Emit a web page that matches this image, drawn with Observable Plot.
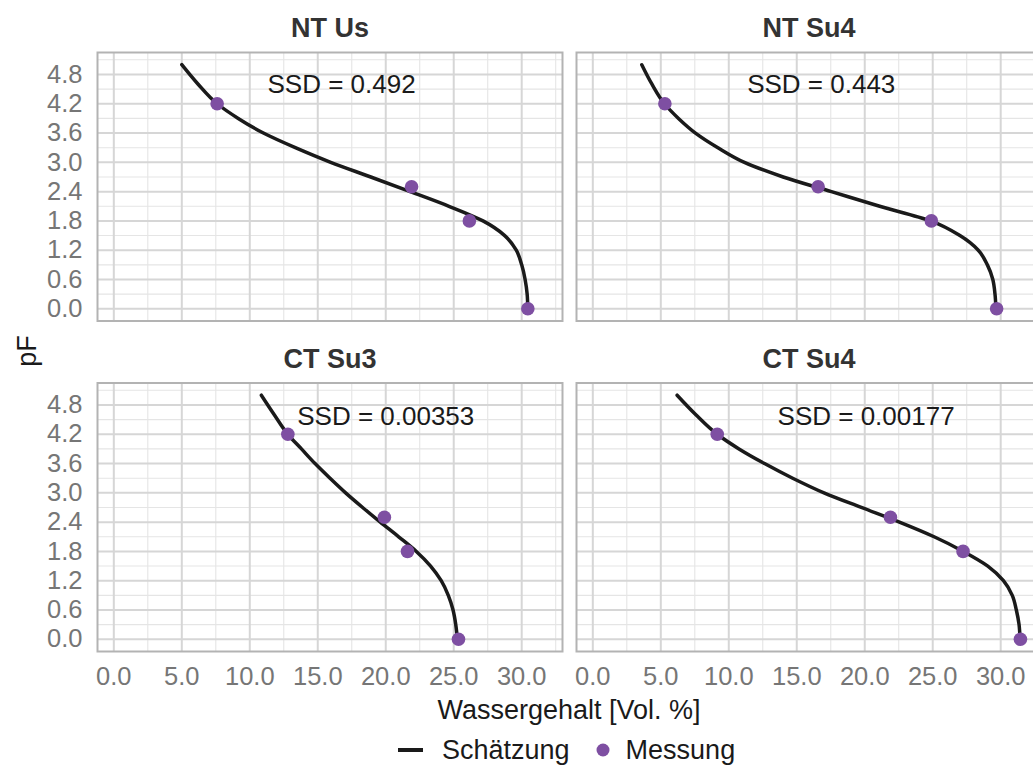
<!DOCTYPE html>
<html>
<head>
<meta charset="utf-8">
<script src="https://cdn.jsdelivr.net/npm/d3@7"></script>
<script src="https://cdn.jsdelivr.net/npm/@observablehq/plot@0.6"></script>
<style>
  html, body { margin: 0; padding: 0; background: #fff; overflow: hidden; }
  #chart { width: 1041px; }
  .legend {
    display: flex; align-items: center; height: 30px; padding: 7px 0 0 398px;
    font: 27px "Liberation Sans", Arial, sans-serif; color: #1a1a1a;
  }
  .legend svg { display: block; }
</style>
</head>
<body>
<div id="chart"></div>
<div class="legend">
  <svg width="25" height="10"><line x1="0" x2="25" y1="5" y2="5" stroke="#1a1a1a" stroke-width="4"></line></svg>
  <span style="margin-left:19px">Schätzung</span>
  <svg width="14" height="14" style="margin-left:26px"><circle cx="7" cy="7" r="6.5" fill="#7E4FA2"></circle></svg>
  <span style="margin-left:16px">Messung</span>
</div>
<script>
// Soil water retention: estimated curve (Schätzung) and measured points (Messung)
const panels = ["NT Us", "NT Su4", "CT Su3", "CT Su4"];

// Estimated retention curves, water content [Vol. %] at these pF levels
const curvePF    = [0, 0.3, 0.6, 0.9, 1.2, 1.5, 1.8, 2.1, 2.4, 2.7, 3.0, 3.3, 3.6, 3.9, 4.2, 4.6, 5.0];
const curveNTUs  = [30.45, 30.4, 30.25, 30.0, 29.6, 28.75, 27.15, 24.65, 21.8, 18.9, 15.95, 13.35, 11.0, 9.15, 7.6, 6.2, 5.0];
const curveNTSu4 = [29.65, 29.58, 29.42, 29.02, 28.35, 27.0, 24.85, 21.1, 17.55, 14.0, 11.15, 9.2, 7.55, 6.3, 5.27, 4.35, 3.6];
const curveCTSu3 = [25.27, 25.15, 24.95, 24.6, 24.08, 23.3, 22.25, 20.95, 19.6, 18.3, 17.05, 15.9, 14.8, 13.8, 12.8, 11.8, 10.85];
const curveCTSu4 = [31.42, 31.35, 31.15, 30.85, 30.2, 29.05, 27.25, 25.1, 22.55, 19.75, 17.0, 14.7, 12.63, 10.75, 9.15, 7.58, 6.2];

// Measurements
const measPF    = [4.2, 2.5, 1.8, 0.0];
const measNTUs  = [7.6, 21.9, 26.15, 30.45];
const measNTSu4 = [5.3, 16.57, 24.9, 29.7];
const measCTSu3 = [12.8, 19.9, 21.6, 25.35];
const measCTSu4 = [9.15, 21.89, 27.23, 31.45];

// Fit quality labels and their anchor in data units
const ssdText = ["SSD = 0.492", "SSD = 0.443", "SSD = 0.00353", "SSD = 0.00177"];
const ssdX    = [16.75, 16.8, 20.0, 20.1];
const ssdPF   = [4.6, 4.6, 4.57, 4.57];

// Axis breaks
const xTicks = [0, 5, 10, 15, 20, 25, 30];
const xMinor = [2.5, 7.5, 12.5, 17.5, 22.5, 27.5, 32.5];
const yTicks = [0.0, 0.6, 1.2, 1.8, 2.4, 3.0, 3.6, 4.2, 4.8];
const yMinor = [0.3, 0.9, 1.5, 2.1, 2.7, 3.3, 3.9, 4.5, 5.1];

const curveTheta = [curveNTUs, curveNTSu4, curveCTSu3, curveCTSu4];
const measTheta  = [measNTUs, measNTSu4, measCTSu3, measCTSu4];

const cell = i => ({col: i % 2, row: Math.floor(i / 2)});
const panelRows = panels.map((p, i) => ({panel: p, ...cell(i)}));
const curveRows = panels.flatMap((p, i) =>
  curvePF.map((pf, j) => ({panel: p, ...cell(i), pF: pf, theta: curveTheta[i][j]})));
const measRows = panels.flatMap((p, i) =>
  measPF.map((pf, j) => ({panel: p, ...cell(i), pF: pf, theta: measTheta[i][j]})));
const ssdRows = panels.map((p, i) => ({panel: p, ...cell(i), text: ssdText[i], x: ssdX[i], pF: ssdPF[i]}));

const FONT = '"Liberation Sans", Arial, Helvetica, sans-serif';
const fmt = d => d.toFixed(1);

const chart = Plot.plot({
  width: 1041,
  height: 728,
  marginTop: 52,
  marginLeft: 97,
  marginRight: 0,
  marginBottom: 77,
  style: {fontFamily: FONT, background: "#fff", overflow: "visible"},
  fx: {domain: [0, 1], axis: null, paddingInner: 14 / 479, paddingOuter: 0, round: false},
  fy: {domain: [0, 1], axis: null, paddingInner: 62 / 330.5, paddingOuter: 0, round: false},
  x: {domain: [-1.2, 33.0]},
  y: {domain: [-0.25, 5.25]},
  marks: [
    Plot.gridX({ticks: xMinor, stroke: "#e5e5e5", strokeOpacity: 1, strokeWidth: 1.1}),
    Plot.gridY({ticks: yMinor, stroke: "#e5e5e5", strokeOpacity: 1, strokeWidth: 1.1}),
    Plot.gridX({ticks: xTicks, stroke: "#d6d6d6", strokeOpacity: 1, strokeWidth: 2}),
    Plot.gridY({ticks: yTicks, stroke: "#d6d6d6", strokeOpacity: 1, strokeWidth: 2}),
    Plot.frame({stroke: "#b3b3b3", strokeWidth: 2}),
    Plot.axisX({ticks: xTicks, tickFormat: fmt, tickSize: 0, tickPadding: 15,
                fontSize: 25.5, color: "#767676", label: null}),
    Plot.axisY({ticks: yTicks, tickFormat: fmt, tickSize: 0, tickPadding: 15,
                fontSize: 25.5, color: "#767676", label: null}),
    Plot.line(curveRows, {x: "theta", y: "pF", fx: "col", fy: "row", z: "panel",
                          curve: "monotone-y", stroke: "#1a1a1a", strokeWidth: 3.5}),
    Plot.dot(measRows, {x: "theta", y: "pF", fx: "col", fy: "row",
                        r: 6.8, fill: "#7E4FA2", stroke: "none"}),
    Plot.text(ssdRows, {x: "x", y: "pF", fx: "col", fy: "row", text: "text",
                        fontSize: 26, fill: "#1a1a1a"}),
    Plot.text(panelRows, {fx: "col", fy: "row", text: "panel", frameAnchor: "top",
                          lineAnchor: "middle", dy: -24,
                          fontSize: 27, fontWeight: "bold", fill: "#333333"})
  ]
});

// Shared axis titles across the panel grid
const svg = d3.select(chart);
svg.append("text")
  .attr("transform", "translate(27,351) rotate(-90)")
  .attr("text-anchor", "middle").attr("dominant-baseline", "central")
  .attr("font-size", 27).attr("fill", "#1a1a1a").attr("font-family", FONT)
  .text("pF");
svg.append("text")
  .attr("x", 569).attr("y", 710)
  .attr("text-anchor", "middle").attr("dominant-baseline", "central")
  .attr("font-size", 27).attr("fill", "#1a1a1a").attr("font-family", FONT)
  .text("Wassergehalt [Vol. %]");

document.getElementById("chart").appendChild(chart);
</script>
</body>
</html>
